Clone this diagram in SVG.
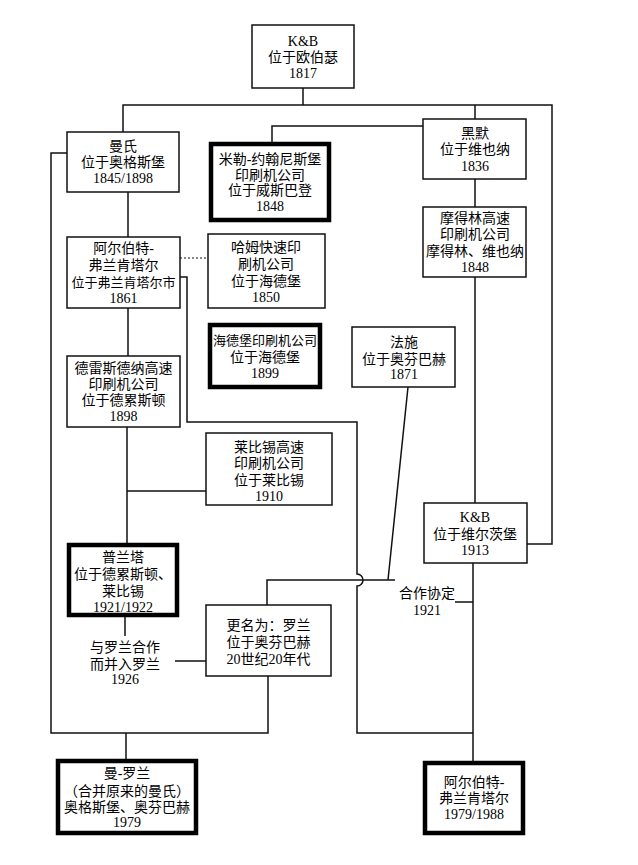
<svg xmlns="http://www.w3.org/2000/svg" width="638" height="865" viewBox="0 0 638 865">
<style>
.box{fill:#fff;stroke:#111;stroke-width:1.5}
.thick{fill:#fff;stroke:#000;stroke-width:4.5}
.ln{fill:none;stroke:#111;stroke-width:1.5}
.dot{fill:none;stroke:#111;stroke-width:1.2;stroke-dasharray:2 2}
text{font-family:"Liberation Serif","Noto Sans CJK SC",serif;font-size:14px;fill:#000;text-anchor:middle}
.sm{font-size:13px}
</style>
<rect width="638" height="865" fill="#fff"/>
<g id="connectors">
<path class="ln" d="M303,88 V105 M123,132 V105 H552 V544 H527"/>
<path class="ln" d="M272,142 V126 H423"/>
<path class="ln" d="M475,105 V119 M475,179 V207 M475,277 V503"/>
<path class="ln" d="M128,192 V237 M128,308 V356 M127,427 V543 M127,491 H206"/>
<path class="dot" d="M180,258 H208"/>
<path class="ln" d="M180,277 H187 V422 H357 V574 A6,6 0 0 1 357,586 V733 H473"/>
<path class="ln" d="M408,387 L388,580 M267,605 V580 H395"/>
<path class="ln" d="M455,602 H473 M473,563 V761"/>
<path class="ln" d="M67,153 H51 V733 H268 V676 M126,733 V759"/>
<path class="ln" d="M125,617 V636 M175,661 H206"/>
</g>
<g id="kb1817"><rect class="box" x="252" y="25" width="102" height="63"/>
<text x="303" y="46">K&amp;B</text><text x="303" y="62">位于欧伯瑟</text><text x="303" y="78">1817</text></g>
<g id="mann"><rect class="box" x="67" y="132" width="112" height="60"/>
<text x="123" y="151">曼氏</text><text x="123" y="167">位于奥格斯堡</text><text x="123" y="183">1845/1898</text></g>
<g id="miller"><rect class="thick" x="211" y="144" width="118" height="76"/>
<text x="270" y="164">米勒-约翰尼斯堡</text><text x="270" y="180">印刷机公司</text><text x="270" y="195">位于威斯巴登</text><text x="270" y="211">1848</text></g>
<g id="hemo"><rect class="box" x="423" y="119" width="103" height="60"/>
<text x="475" y="138">黑默</text><text x="475" y="154">位于维也纳</text><text x="475" y="171">1836</text></g>
<g id="modling"><rect class="box" x="423" y="207" width="103" height="70"/>
<text x="475" y="223">摩得林高速</text><text x="475" y="239">印刷机公司</text><text x="475" y="256">摩得林、维也纳</text><text x="475" y="272">1848</text></g>
<g id="albert1861"><rect class="box" x="67" y="237" width="113" height="71"/>
<text x="123.5" y="253">阿尔伯特-</text><text x="123.5" y="270">弗兰肯塔尔</text><text x="123.5" y="287" class="sm">位于弗兰肯塔尔市</text><text x="123.5" y="303">1861</text></g>
<g id="hamm"><rect class="box" x="208" y="234" width="117" height="74"/>
<text x="266" y="252">哈姆快速印</text><text x="266" y="269">刷机公司</text><text x="266" y="286">位于海德堡</text><text x="266" y="302">1850</text></g>
<g id="heidelberg"><rect class="thick" x="210" y="325" width="110" height="62"/>
<text x="265" y="345" class="sm">海德堡印刷机公司</text><text x="265" y="362">位于海德堡</text><text x="265" y="378">1899</text></g>
<g id="faber"><rect class="box" x="352" y="327" width="103" height="60"/>
<text x="404" y="347">法施</text><text x="404" y="364">位于奥芬巴赫</text><text x="404" y="379">1871</text></g>
<g id="dresden"><rect class="box" x="67" y="356" width="113" height="71"/>
<text x="123.5" y="373">德雷斯德纳高速</text><text x="123.5" y="389">印刷机公司</text><text x="123.5" y="405">位于德累斯顿</text><text x="123.5" y="421">1898</text></g>
<g id="leipzig"><rect class="box" x="206" y="433" width="126" height="72"/>
<text x="269" y="452">莱比锡高速</text><text x="269" y="468">印刷机公司</text><text x="269" y="485">位于莱比锡</text><text x="269" y="501">1910</text></g>
<g id="kb1913"><rect class="box" x="424" y="503" width="103" height="60"/>
<text x="475" y="522">K&amp;B</text><text x="475" y="539">位于维尔茨堡</text><text x="475" y="555">1913</text></g>
<g id="planeta"><rect class="thick" x="69" y="545" width="108" height="70"/>
<text x="123" y="562">普兰塔</text><text x="123" y="579">位于德累斯顿、</text><text x="123" y="596">莱比锡</text><text x="123" y="612">1921/1922</text></g>
<g id="note1926"><text x="125" y="652">与罗兰合作</text><text x="125" y="669">而并入罗兰</text><text x="125" y="684">1926</text></g>
<g id="roland"><rect class="box" x="206" y="605" width="125" height="71"/>
<text x="268.5" y="630">更名为：罗兰</text><text x="268.5" y="647">位于奥芬巴赫</text><text x="268.5" y="664">20世纪20年代</text></g>
<g id="note1921"><text x="427" y="598">合作协定</text><text x="427" y="615">1921</text></g>
<g id="manroland"><rect class="thick" x="58" y="761" width="138" height="72"/>
<text x="127" y="778">曼-罗兰</text><text x="127" y="796">（合并原来的曼氏）</text><text x="127" y="812">奥格斯堡、奥芬巴赫</text><text x="127" y="827">1979</text></g>
<g id="albert1979"><rect class="thick" x="425" y="763" width="98" height="70"/>
<text x="474" y="787">阿尔伯特-</text><text x="474" y="803">弗兰肯塔尔</text><text x="474" y="819">1979/1988</text></g>
</svg>
